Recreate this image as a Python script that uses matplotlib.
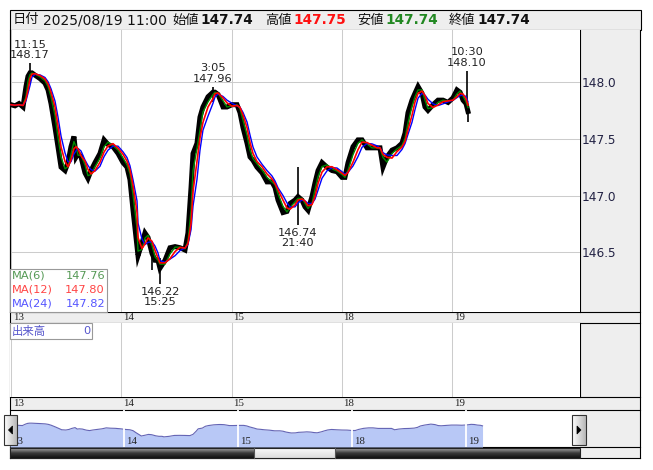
import numpy as np
import pandas as pd
import matplotlib
matplotlib.use('Agg')
import matplotlib.pyplot as plt
from matplotlib.patches import Rectangle, Polygon
from matplotlib.colors import LinearSegmentedColormap

plt.rcParams['font.family'] = ['DejaVu Sans', 'Noto Sans CJK JP']

W, H = 653, 470

# session time in days from 08/13 (weekend removed), USD/JPY
t_day = [0.000, 0.036, 0.073, 0.109, 0.136, 0.154, 0.172, 0.190, 0.218, 0.263,
         0.308, 0.336, 0.363, 0.399, 0.426, 0.454, 0.490, 0.517, 0.544, 0.571,
         0.590, 0.608, 0.635, 0.671, 0.698, 0.726, 0.762, 0.807, 0.844, 0.880,
         0.925, 0.971, 1.016, 1.052, 1.079, 1.107, 1.143, 1.152, 1.188, 1.215,
         1.243, 1.279, 1.306, 1.333, 1.351, 1.397, 1.442, 1.488, 1.533, 1.578,
         1.605, 1.633, 1.651, 1.687, 1.714, 1.741, 1.787, 1.832, 1.850, 1.878,
         1.923, 1.959, 2.005, 2.050, 2.077, 2.104, 2.141, 2.168, 2.195, 2.231,
         2.277, 2.322, 2.367, 2.395, 2.422, 2.467, 2.503, 2.531, 2.576, 2.603,
         2.639, 2.667, 2.694, 2.730, 2.757, 2.785, 2.821, 2.866, 2.912, 2.957,
         3.002, 3.029, 3.057, 3.102, 3.147, 3.184, 3.229, 3.274, 3.320, 3.347,
         3.374, 3.410, 3.456, 3.501, 3.546, 3.574, 3.601, 3.637, 3.664, 3.692,
         3.728, 3.755, 3.782, 3.828, 3.873, 3.918, 3.964, 4.009, 4.045, 4.073,
         4.100, 4.127, 4.145]
close = [147.80, 147.79, 147.81, 147.78, 147.96, 148.05, 148.08, 148.08, 148.06, 148.03,
         147.99, 147.93, 147.81, 147.60, 147.43, 147.25, 147.22, 147.29, 147.43, 147.52,
         147.34, 147.37, 147.34, 147.20, 147.15, 147.22, 147.29, 147.37, 147.49, 147.45,
         147.43, 147.37, 147.29, 147.25, 147.14, 146.87, 146.55, 146.47, 146.58, 146.67,
         146.63, 146.49, 146.43, 146.43, 146.36, 146.43, 146.54, 146.55, 146.54, 146.52,
         146.67, 147.07, 147.37, 147.46, 147.69, 147.78, 147.87, 147.91, 147.91, 147.89,
         147.78, 147.78, 147.80, 147.80, 147.73, 147.60, 147.46, 147.34, 147.31, 147.25,
         147.20, 147.12, 147.12, 147.07, 146.96, 146.85, 146.86, 146.93, 146.96, 146.99,
         146.96, 146.90, 146.87, 146.99, 147.11, 147.22, 147.29, 147.25, 147.22, 147.21,
         147.16, 147.16, 147.29, 147.43, 147.49, 147.49, 147.42, 147.42, 147.42, 147.42,
         147.25, 147.34, 147.40, 147.42, 147.46, 147.55, 147.73, 147.84, 147.90, 147.96,
         147.90, 147.78, 147.75, 147.80, 147.84, 147.84, 147.82, 147.86, 147.93, 147.91,
         147.84, 147.81, 147.74]

# long wicks
wick_t = [0.172, 1.279, 1.351, 1.832, 2.603, 4.136, 4.145]
wick_lo = [148.00, 146.34, 146.22, 147.82, 146.74, 147.80, 147.65]
wick_hi = [148.17, 146.52, 146.45, 147.96, 147.25, 148.10, 147.80]

# high / low labels
ann_t = [0.172, 1.832, 4.136, 1.351, 2.603]
ann_price = [148.17, 147.96, 148.10, 146.22, 146.74]
ann_time = ['11:15', '3:05', '10:30', '15:25', '21:40']
ann_above = [True, True, True, False, False]

day_labels = ['13', '14', '15', '18', '19']
price_ticks = [146.5, 147.0, 147.5, 148.0]

ma_labels = ['MA(6)', 'MA(12)', 'MA(24)']
ma_values = [147.76, 147.80, 147.82]
ma_windows = [2, 3, 4]   # same lag as the 6/12/24 bar MAs at this sampling
ma_line_colors = ['#008800', '#ff0000', '#0000ff']
ma_text_colors = ['#559955', '#ff4444', '#5555ff']

hdr_date = '2025/08/19 11:00'
hdr_labels = ['始値', '高値', '安値', '終値']
hdr_values = ['147.74', '147.75', '147.74', '147.74']
hdr_colors = ['#111111', '#ff1111', '#228822', '#111111']

volume_total = 0


def px(x0, y0, x1, y1):
    return [x0 / W, 1 - y1 / H, (x1 - x0) / W, (y1 - y0) / H]


def rect(a, x0, y0, x1, y1, **kw):
    a.add_patch(Rectangle((x0, y0), x1 - x0, y1 - y0, **kw))


def grad(a, x0, y0, x1, y1, colors, horizontal=False, z=1):
    cmap = LinearSegmentedColormap.from_list('g', colors)
    g = np.linspace(0, 1, 32)
    img = g.reshape(1, -1) if horizontal else g.reshape(-1, 1)
    a.imshow(img, cmap=cmap, extent=(x0, x1, y1, y0), aspect='auto',
             zorder=z, interpolation='bilinear')


fig = plt.figure(figsize=(W / 100, H / 100), dpi=100)

# ---- background frame (pixel coords)
bg = fig.add_axes([0, 0, 1, 1], zorder=-1)
bg.axis('off')
grey = '#eeeeee'
rect(bg, 10, 10, 641, 30, fc=grey, ec='black', lw=0.8)
rect(bg, 580, 30, 640, 312, fc=grey, ec='none')
rect(bg, 10, 312, 640, 323, fc=grey, ec='none')
rect(bg, 580, 323, 640, 397, fc=grey, ec='none')
rect(bg, 10, 397, 640, 410, fc=grey, ec='none')
rect(bg, 580, 410, 640, 458, fc=grey, ec='none')
for y in [312, 323, 397, 410, 447, 458]:
    bg.plot([10, 640], [y, y], color='black', lw=0.8)
bg.plot([10, 10], [30, 458], color='black', lw=0.8)
bg.plot([640, 640], [30, 458], color='black', lw=0.8)
bg.plot([580, 580], [30, 312], color='black', lw=0.8)
bg.plot([580, 580], [323, 397], color='black', lw=0.8)

# header
bg.text(13, 20, '日付', fontsize=9.5, va='center', color='#111111')
bg.text(43, 20, hdr_date, fontsize=10, va='center', color='#111111')
lab_x = [172, 265, 357, 449]
for lx, lab, val, c in zip(lab_x, hdr_labels, hdr_values, hdr_colors):
    bg.text(lx, 20.5, lab, fontsize=9.5, va='center', color='#111111')
    bg.text(lx + 28, 20, val, fontsize=9.8, va='center', color=c,
            fontweight='bold')
bg.set_xlim(0, W)
bg.set_ylim(H, 0)

# ---- main price chart
xl = ((10 - 11) / 110.25, (580 - 11) / 110.25)
ax = fig.add_axes(px(10, 30, 580, 312))
ax.set_facecolor('white')
ax.set_xlim(*xl)
ax.set_ylim(145.974, 148.458)
ax.set_xticks(range(len(day_labels)))
ax.set_yticks(price_ticks)
ax.yaxis.tick_right()
ax.tick_params(length=0, labelbottom=False, labelsize=8.7,
               labelcolor='#222244', pad=1.5)
ax.yaxis.set_major_formatter(matplotlib.ticker.FormatStrFormatter('%.1f'))
ax.grid(color='#cccccc', lw=0.75)
ax.set_axisbelow(True)
for s in ax.spines.values():
    s.set_visible(False)
ax.spines['left'].set_visible(True)
ax.spines['left'].set_linewidth(0.8)

ax.plot(t_day, close, color='black', lw=3.6, zorder=2, solid_joinstyle='miter')
ax.vlines(wick_t, wick_lo, wick_hi, color='black', lw=1.2, zorder=2)
s = pd.Series(close)
ma = [s.rolling(w, min_periods=1).mean() for w in ma_windows]
ax.plot(t_day, ma[0], color=ma_line_colors[0], lw=1.0, zorder=3)
ax.plot(t_day, ma[2], color=ma_line_colors[2], lw=1.0, zorder=4)
ax.plot(t_day, ma[1], color=ma_line_colors[1], lw=1.2, zorder=5)

for t, p, tm, up in zip(ann_t, ann_price, ann_time, ann_above):
    txt = f'{tm}\n{p:.2f}' if up else f'{p:.2f}\n{tm}'
    ax.annotate(txt, (t, p), xytext=(0, 2 if up else -2),
                textcoords='offset points', ha='center',
                va='bottom' if up else 'top', fontsize=8.2,
                color='#222222', linespacing=1.05, annotation_clip=False,
                zorder=6)

# ---- date strips
for y0, y1 in [(312, 323), (397, 410)]:
    sa = fig.add_axes(px(10, y0, 580, y1))
    sa.set_xlim(*xl)
    sa.axis('off')
    for d, lbl in enumerate(day_labels):
        sa.annotate(lbl, (d, 0.5), xycoords=('data', 'axes fraction'),
                    xytext=(1.2, 0), textcoords='offset points', va='center',
                    ha='left', fontsize=7.8, family='Liberation Serif',
                    color='#222222')

# ---- volume panel
vax = fig.add_axes(px(10, 323, 580, 397))
vax.set_xlim(*xl)
vax.set_xticks(range(len(day_labels)))
vax.set_yticks([])
vax.tick_params(length=0, labelbottom=False)
vax.grid(axis='x', color='#cccccc', lw=0.75)
for s_ in vax.spines.values():
    s_.set_visible(False)

# ---- navigator
nax = fig.add_axes(px(10, 410, 580, 447))
nax.set_xlim(0, 570 / 114)
nax.set_ylim(145.09, 149.73)
nax.fill_between(t_day, close, 145.09, color='#b8c8f6', lw=0)
nax.plot(t_day, close, color='#6464b4', lw=0.8)
nax.vlines(range(1, len(day_labels)), 145.09, 149.73, color='white', lw=1.3)
for d, lbl in enumerate(day_labels):
    nax.annotate(lbl, (d, 0), xycoords=('data', 'axes fraction'),
                 xytext=(1.5, 1), textcoords='offset points', va='bottom',
                 ha='left', fontsize=7.8, family='Liberation Serif',
                 color='#222222')
nax.axis('off')

# ---- overlays (pixel coords)
ov = fig.add_axes([0, 0, 1, 1], zorder=5)
ov.axis('off')
ov.patch.set_alpha(0)

# MA legend
rect(ov, 10, 269, 107, 312, fc='white', ec='#999999', lw=0.8)
for i, (lab, val, c) in enumerate(zip(ma_labels, ma_values, ma_text_colors)):
    y = 276 + i * 14
    ov.text(12, y, lab, fontsize=8.2, color=c, va='center')
    ov.text(105, y, f'{val:.2f}', fontsize=8.2, color=c, va='center', ha='right')

# volume label
rect(ov, 10, 323, 92, 339, fc='white', ec='#999999', lw=0.8)
ov.text(12, 331, '出来高', fontsize=8.2, color='#5555cc', va='center')
ov.text(90, 331, str(volume_total), fontsize=8.2, color='#5555cc', va='center',
        ha='right')

# scrollbar
grad(ov, 10, 448, 254, 458, ['#a8a8a8', '#3a3a3a', '#111111'], z=2)
grad(ov, 335, 448, 580, 458, ['#a8a8a8', '#3a3a3a', '#111111'], z=2)
grad(ov, 254, 448, 335, 458, ['#fafafa', '#dcdcdc'], z=2)
rect(ov, 10, 448, 580, 458, fc='none', ec='#222222', lw=0.8, zorder=3)
ov.plot([254, 254], [448, 458], color='#555555', lw=0.8, zorder=3)
ov.plot([335, 335], [448, 458], color='#555555', lw=0.8, zorder=3)

# navigator buttons
for x0, x1, pts in [(4, 17, [(12.5, 426), (12.5, 434), (8.5, 430)]),
                    (572, 586, [(577, 426), (577, 434), (581, 430)])]:
    grad(ov, x0, 415, x1, 445, ['#ffffff', '#b8b8b8'], horizontal=True, z=4)
    rect(ov, x0, 415, x1, 445, fc='none', ec='#333333', lw=0.8, zorder=5)
    ov.add_patch(Polygon(pts, closed=True, fc='black', ec='black', lw=0.5,
                         zorder=6))

ov.set_xlim(0, W)
ov.set_ylim(H, 0)

fig.savefig('out.png', dpi=100)
